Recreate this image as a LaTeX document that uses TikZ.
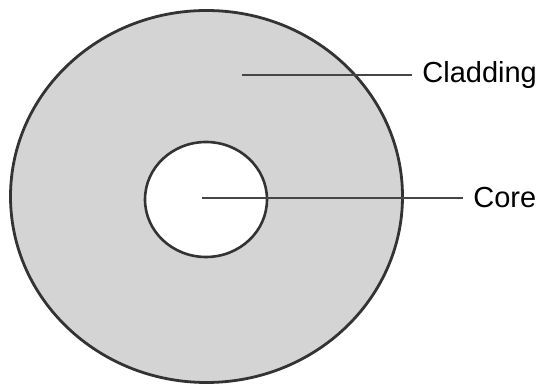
\documentclass[tikz,border=0pt]{standalone}
\usepackage{fontspec}
\setmainfont{Liberation Sans}
\definecolor{cladgray}{RGB}{212,212,212}
\definecolor{leadgray}{RGB}{70,70,70}
\tikzset{
  lab/.style={anchor=west,inner xsep=5pt,inner ysep=0pt,font=\fontsize{14.5}{17}\selectfont},
  lead/.style={color=leadgray,line width=1pt}
}
\begin{document}
\begin{tikzpicture}[x=0.5pt,y=-0.5pt]
      \useasboundingbox (0,0) rectangle (547,389);
      \draw[fill=cladgray,line width=1.4pt,draw=black!80] (206.5,196.5) ellipse (196 and 186);
      \draw[fill=white,line width=1.3pt,draw=black!80] (206,199.5) ellipse (61 and 57.5);

      \coordinate (c1) at (242,75);
      \coordinate (c2) at (202,198);
      \node[lab] (clad) at (412,75) {Cladding};
      \node[lab] (core) at (463,198) {Core};
      \draw[lead] (c1) -- (clad);
      \draw[lead] (c2) -- (core);
\end{tikzpicture}
\end{document}
